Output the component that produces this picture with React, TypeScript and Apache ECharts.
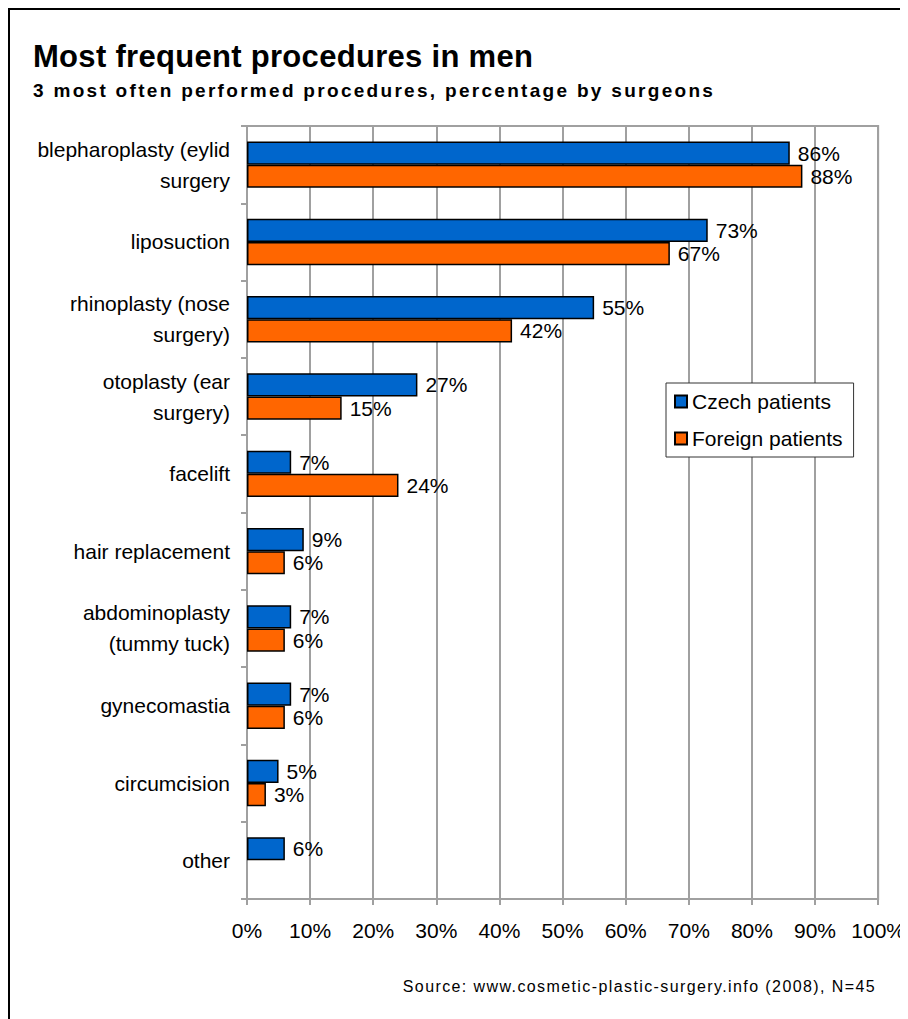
import React, { useEffect, useRef } from "react";
import * as echarts from "echarts";

const categories = [
  "blepharoplasty (eylid\nsurgery",
  "liposuction",
  "rhinoplasty (nose\nsurgery)",
  "otoplasty (ear\nsurgery)",
  "facelift",
  "hair replacement",
  "abdominoplasty\n(tummy tuck)",
  "gynecomastia",
  "circumcision",
  "other",
];
const czechValues: (number | null)[] = [86, 73, 55, 27, 7, 9, 7, 7, 5, 6];
const foreignValues: (number | null)[] = [88, 67, 42, 15, 24, 6, 6, 6, 3, null];
const xTicks = [0, 10, 20, 30, 40, 50, 60, 70, 80, 90, 100];
const seriesNames = ["Czech patients", "Foreign patients"];

const TITLE = "Most frequent procedures in men";
const SUBTITLE = "3 most often performed procedures, percentage by surgeons";
const SOURCE = "Source: www.cosmetic-plastic-surgery.info (2008), N=45";

const FONT = "'Liberation Sans', Arial, sans-serif";

export default function App() {
  const ref = useRef<HTMLDivElement>(null);
  useEffect(() => {
    if (!ref.current) return;
    const chart = echarts.init(ref.current, null, { renderer: "svg" });
    const labelCfg = {
      show: true,
      position: "right",
      distance: 8,
      formatter: (p: any) => (p.value == null ? "" : p.value + "%"),
      fontSize: 21,
      color: "#000",
      fontFamily: FONT,
    };
    chart.setOption({
      animation: false,
      backgroundColor: "#fff",
      textStyle: { fontFamily: FONT },
      graphic: [
        {
          type: "rect",
          shape: { x: 1, y: 1, width: 1200, height: 1200 },
          style: { fill: "none", stroke: "#000", lineWidth: 2 },
          silent: true,
        },
        {
          type: "text",
          x: 25,
          y: 48,
          style: {
            text: TITLE,
            fontSize: 31,
            fontWeight: "bold",
            fontFamily: FONT,
            fill: "#000",
            textVerticalAlign: "middle",
          },
        },
        {
          type: "text",
          x: 25,
          y: 82,
          style: {
            text: SUBTITLE,
            fontSize: 19,
            fontWeight: "bold",
            fontFamily: FONT,
            fill: "#000",
            textVerticalAlign: "middle",
          },
        },
        {
          type: "text",
          x: 868,
          y: 978,
          style: {
            text: SOURCE,
            fontSize: 16,
            fontFamily: FONT,
            fill: "#000",
            textAlign: "right",
            textVerticalAlign: "middle",
          },
        },
      ],
      legend: {
        orient: "vertical",
        left: 658,
        top: 375,
        data: seriesNames,
        icon: "rect",
        itemWidth: 12,
        itemHeight: 12,
        itemGap: 16,
        padding: [8, 11, 8, 8],
        backgroundColor: "#fff",
        borderColor: "#333",
        borderWidth: 1,
        borderRadius: 0,
        textStyle: { fontSize: 21, color: "#000", fontFamily: FONT },
      },
      grid: {
        left: 239,
        top: 118,
        right: 29,
        bottom: 120,
        show: true,
        borderColor: "#a0a0a0",
        borderWidth: 2,
        backgroundColor: "transparent",
      },
      xAxis: {
        type: "value",
        min: 0,
        max: 100,
        interval: 10,
        axisLine: { show: true, lineStyle: { color: "#a0a0a0", width: 2 } },
        axisTick: { show: true, length: 6, lineStyle: { color: "#a0a0a0", width: 2 } },
        splitLine: { show: true, lineStyle: { color: "#a0a0a0", width: 2 } },
        axisLabel: {
          formatter: (v: number) => (xTicks.includes(v) ? v + "%" : ""),
          fontSize: 21,
          color: "#000",
          margin: 21,
          fontFamily: FONT,
        },
      },
      yAxis: {
        type: "category",
        data: categories,
        inverse: true,
        axisLine: { show: true, lineStyle: { color: "#a0a0a0", width: 2 } },
        axisTick: { show: true, length: 6, lineStyle: { color: "#a0a0a0", width: 2 } },
        axisLabel: {
          fontSize: 21,
          lineHeight: 31,
          color: "#000",
          margin: 17,
          align: "right",
          fontFamily: FONT,
        },
      },
      series: [
        {
          name: seriesNames[0],
          type: "bar",
          data: czechValues,
          barCategoryGap: "40%",
          barGap: "0%",
          itemStyle: { color: "#0066CC", borderColor: "#000", borderWidth: 1.5 },
          label: labelCfg,
        },
        {
          name: seriesNames[1],
          type: "bar",
          data: foreignValues,
          barCategoryGap: "40%",
          barGap: "0%",
          itemStyle: { color: "#FF6600", borderColor: "#000", borderWidth: 1.5 },
          label: labelCfg,
        },
      ],
    });
    const applySpacing = () => {
      const root = ref.current;
      if (!root) return;
      root.querySelectorAll("text").forEach((t) => {
        const s = t.textContent;
        if (s === SUBTITLE) t.setAttribute("letter-spacing", "2.3");
        else if (s === SOURCE) t.setAttribute("letter-spacing", "1.4");
        else if (s === TITLE) t.setAttribute("letter-spacing", "0.3");
      });
    };
    applySpacing();
    chart.on("finished", applySpacing);
    return () => chart.dispose();
  }, []);
  return <div ref={ref} style={{ width: 900, height: 1011 }} />;
}
